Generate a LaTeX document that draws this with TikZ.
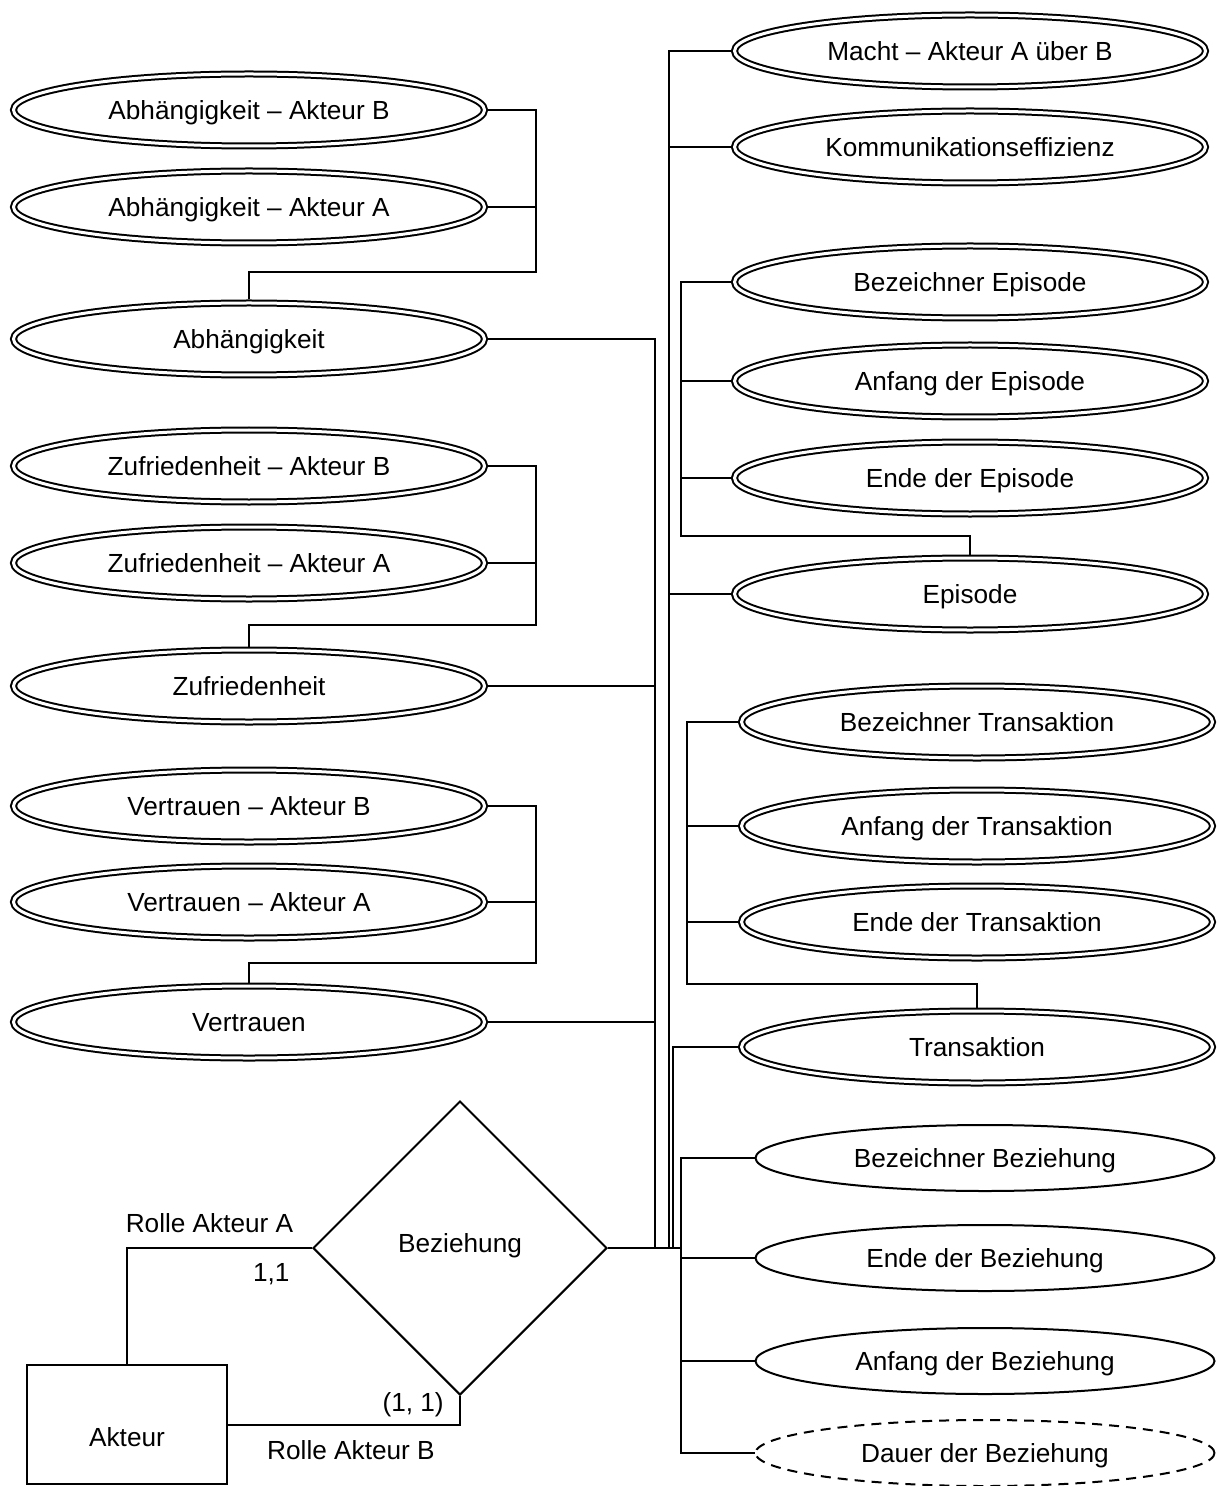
\documentclass[tikz,border=0pt]{standalone}
\usepackage{fontspec}
\setmainfont{Liberation Sans}
\usetikzlibrary{shapes.geometric}
\tikzset{
	attr/.style={ellipse, draw, line width=1pt, minimum width=229.5pt, minimum height=33pt, inner sep=0pt, text depth=0pt},
	multiattr/.style={ellipse, draw, line width=1pt, double, double distance=1.5pt, minimum width=235.5pt, minimum height=36pt, inner sep=0pt, outer sep=1.75pt, text depth=0pt},
	derived/.style={attr, dash pattern=on 5pt off 3.5pt},
	entity/.style={rectangle, draw, line width=1pt, minimum width=100pt, minimum height=59.5pt},
	relation/.style={diamond, draw, line width=1pt, minimum width=147pt, minimum height=147pt, inner sep=0pt},
	conn/.style={line width=0.9pt},
}

\begin{document}
\begin{tikzpicture}[x=0.5pt, y=-0.5pt, every node/.style={font=\fontsize{13.1}{16}\selectfont}]
			%%%%% START %%%%%
			\useasboundingbox (0,0) rectangle (1218,1486);
			
			% attribute links to the left
			\node[multiattr] (abhB) at (249,110) {Abhängigkeit – Akteur B};
			\node[multiattr] (abhA) at (249,207) {Abhängigkeit – Akteur A};
			\node[multiattr] (abh) at (249,339) {Abhängigkeit};
			
			\node[multiattr] (zufB) at (249,466) {Zufriedenheit – Akteur B};
			\node[multiattr] (zufA) at (249,563) {Zufriedenheit – Akteur A};
			\node[multiattr] (zuf) at (249,686) {Zufriedenheit};
			
			\node[multiattr] (vertrB) at (249,806) {Vertrauen – Akteur B};
			\node[multiattr] (vertrA) at (249,902) {Vertrauen – Akteur A};
			\node[multiattr] (vertr) at (249,1022) {Vertrauen};
			
			% attributes to the right
			\node[multiattr] (macht) at (970,51) {Macht – Akteur A über B};
			\node[multiattr] (komm) at (970,147) {Kommunikationseffizienz};
			
			\node[multiattr] (epiBez) at (970,282) {Bezeichner Episode};
			\node[multiattr] (epiAnf) at (970,381) {Anfang der Episode};
			\node[multiattr] (epiEnd) at (970,478) {Ende der Episode};
			\node[multiattr] (epi) at (970,594) {Episode};
			
			\node[multiattr] (trBez) at (977,722) {Bezeichner Transaktion};
			\node[multiattr] (trAnf) at (977,826) {Anfang der Transaktion};
			\node[multiattr] (trEnd) at (977,922) {Ende der Transaktion};
			\node[multiattr] (tr) at (977,1047) {Transaktion};
			
			\node[attr] (bzBez) at (985,1158) {Bezeichner Beziehung};
			\node[attr] (bzEnd) at (985,1258) {Ende der Beziehung};
			\node[attr] (bzAnf) at (985,1361) {Anfang der Beziehung};
			\node[derived] (bzDauer) at (985,1453) {Dauer der Beziehung};
			
			% relation and entity
			\node[relation, text depth=5.5pt] (bez) at (460,1248) {Beziehung};
			\node[entity, text height=22.4pt, text depth=0pt] (akteur) at (127,1424.5) {Akteur};
			
			\coordinate (abhJ) at (536,272);
			\coordinate (zufJ) at (536,625);
			\coordinate (vertrJ) at (536,963);
			\coordinate (epiJ) at (681,536);
			\coordinate (trJ) at (687,984);
			\coordinate (leftJ) at (655,1248);
			\coordinate (midJ) at (669,1248);
			\coordinate (trunkJ) at (673,1248);
			\coordinate (attrJ) at (681,1248);
			
			\foreach \a in {abhB,abhA} \draw[conn] (abh.north) |- (abhJ) |- (\a.east);
			\foreach \a in {zufB,zufA} \draw[conn] (zuf.north) |- (zufJ) |- (\a.east);
			\foreach \a in {vertrB,vertrA} \draw[conn] (vertr.north) |- (vertrJ) |- (\a.east);
			\foreach \a in {epiBez,epiAnf,epiEnd} \draw[conn] (epi.north) |- (epiJ) |- (\a.west);
			\foreach \a in {trBez,trAnf,trEnd} \draw[conn] (tr.north) |- (trJ) |- (\a.west);
			
			\foreach \a in {abh,zuf,vertr} \draw[conn] (bez.east) -- (leftJ) |- (\a.east);
			\foreach \a in {macht,komm,epi} \draw[conn] (bez.east) -- (midJ) |- (\a.west);
			\draw[conn] (bez.east) -- (trunkJ) |- (tr.west);
			\foreach \a in {bzBez,bzEnd,bzAnf,bzDauer} \draw[conn] (bez.east) -- (attrJ) |- (\a.west);
			
			\draw[line width=1pt] (akteur.north) |- node[pos=0.723, above=4pt] {Rolle Akteur A} node[pos=0.89, below=4pt] {1,1} (bez.west);
			\draw[line width=1pt] (akteur.east) -| node[pos=0.399, above, inner sep=3.5pt] {(1, 1)} node[pos=0.265, below=4pt] {Rolle Akteur B} (bez.south);
			
			%%%%% END %%%%%
\end{tikzpicture}
\end{document}
